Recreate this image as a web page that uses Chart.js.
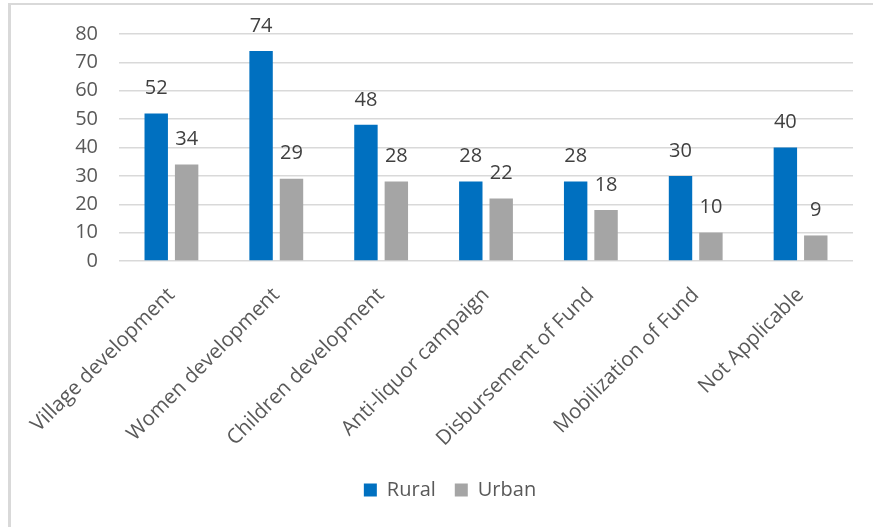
<!DOCTYPE html>
<html>
<head>
<meta charset="utf-8">
<script src="https://cdn.jsdelivr.net/npm/chart.js@4/dist/chart.umd.min.js"></script>
<style>
  html, body { margin: 0; padding: 0; background: #fff; }
  #wrap { position: relative; width: 873px; height: 527px; }
</style>
</head>
<body>
<div id="wrap"><canvas id="c" width="873" height="527"></canvas></div>
<script>
const categories = ["Village development", "Women development", "Children development", "Anti-liquor campaign", "Disbursement of Fund", "Mobilization of Fund", "Not Applicable"];
const rural = [52, 74, 48, 28, 28, 30, 40];
const urban = [34, 29, 28, 22, 18, 10, 9];
const yTicks = [0, 10, 20, 30, 40, 50, 60, 70, 80];

const FONT = "'Open Sans', sans-serif";

const framePlugin = {
  id: 'frame',
  beforeDraw(chart) {
    const ctx = chart.ctx;
    ctx.save();
    ctx.fillStyle = '#ffffff';
    ctx.fillRect(0, 0, chart.width, chart.height);
    ctx.fillStyle = '#d9d9d9';
    ctx.fillRect(8, 3, 3, chart.height - 3);
    ctx.fillRect(8, 3, chart.width - 8, 2);
    ctx.restore();
  }
};

const labelPlugin = {
  id: 'valueLabels',
  afterDatasetsDraw(chart) {
    const ctx = chart.ctx;
    ctx.save();
    ctx.font = "20px " + FONT;
    ctx.fillStyle = '#404040';
    ctx.textAlign = 'center';
    ctx.textBaseline = 'middle';
    chart.data.datasets.forEach((ds, i) => {
      const meta = chart.getDatasetMeta(i);
      meta.data.forEach((bar, j) => {
        ctx.fillText(String(ds.data[j]), bar.x, bar.y - 25);
      });
    });
    ctx.restore();
  }
};

new Chart(document.getElementById('c'), {
  type: 'bar',
  data: {
    labels: categories,
    datasets: [
      { label: 'Rural', data: rural, backgroundColor: '#0070C0', barPercentage: 0.77, categoryPercentage: 0.58 },
      { label: 'Urban', data: urban, backgroundColor: '#A5A5A5', barPercentage: 0.77, categoryPercentage: 0.58 }
    ]
  },
  options: {
    responsive: false,
    animation: false,
    layout: { padding: { left: 47, right: 20, top: 34, bottom: 17 } },
    plugins: {
      tooltip: { enabled: false },
      legend: {
        position: 'bottom',
        labels: {
          boxWidth: 13, boxHeight: 13, padding: 19,
          color: '#595959',
          font: { family: FONT, size: 20 }
        }
      }
    },
    scales: {
      x: {
        grid: { display: false, drawTicks: false },
        border: { display: false },
        ticks: {
          color: '#595959',
          font: { family: FONT, size: 20.5 },
          maxRotation: 45, minRotation: 45,
          padding: 22,
          autoSkip: false
        },
        afterFit(scale) { scale.height = 200; }
      },
      y: {
        min: 0, max: 80,
        afterBuildTicks(scale) { scale.ticks = yTicks.map(v => ({ value: v })); },
        grid: { color: '#d9d9d9', lineWidth: 1.5, drawTicks: false },
        border: { display: false },
        ticks: {
          color: '#595959',
          font: { family: FONT, size: 20 },
          padding: 21
        },
        afterFit(scale) { scale.width = 72; }
      }
    }
  },
  plugins: [framePlugin, labelPlugin]
});
</script>
</body>
</html>
